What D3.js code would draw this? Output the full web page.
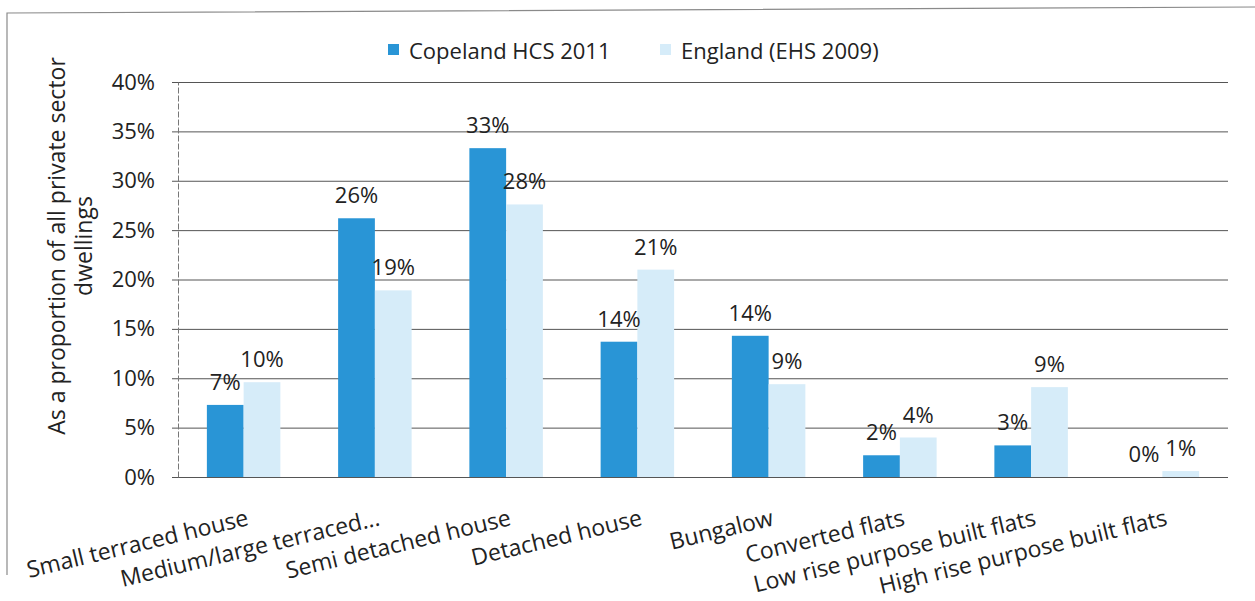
<!DOCTYPE html>
<html>
<head>
<meta charset="utf-8">
<script src="https://cdn.jsdelivr.net/npm/d3@7"></script>
<style>
  html, body { margin: 0; padding: 0; background: #fff; }
  svg text { font-family: "Open Sans", Lato, sans-serif; fill: #222; }
</style>
</head>
<body>
<svg id="chart" width="1255" height="601"></svg>
<script>
// Dwelling types (private sector stock)
const categories = [
  "Small terraced house",
  "Medium/large terraced...",
  "Semi detached house",
  "Detached house",
  "Bungalow",
  "Converted flats",
  "Low rise purpose built flats",
  "High rise purpose built flats"
];
const seriesNames = ["Copeland HCS 2011", "England (EHS 2009)"];
const copeland = [0.073, 0.262, 0.333, 0.137, 0.143, 0.022, 0.032, 0.000];
const england  = [0.096, 0.189, 0.276, 0.210, 0.094, 0.040, 0.091, 0.006];
const yTicks = [0, 0.05, 0.10, 0.15, 0.20, 0.25, 0.30, 0.35, 0.40];
const yTitle = ["As a proportion of all private sector", "dwellings"];

const colors = ["#2995d6", "#d6ecf9"];
const svg = d3.select("#chart");

const plot = { left: 178, right: 1228, top: 82, bottom: 477 };

const x = d3.scaleBand()
  .domain(categories)
  .range([plot.left, plot.right])
  .paddingInner(0.44)
  .paddingOuter(0.22);

const xs = d3.scaleBand()
  .domain(seriesNames)
  .range([0, x.bandwidth()]);

const y = d3.scaleLinear().domain([0, 0.4]).range([plot.bottom, plot.top]);
const pct = d3.format(".0%");

// chart frame (left and top edges)
svg.append("path")
  .attr("d", "M7,575 L7,13 L1255,7")
  .attr("fill", "none")
  .attr("stroke", "#8a8a8a")
  .attr("stroke-width", 1.2);

// horizontal gridlines (extend a little left of the axis as tick marks)
const gy = svg.append("g")
  .attr("transform", `translate(${plot.right},0)`)
  .call(d3.axisLeft(y).tickValues(yTicks).tickSize(plot.right - 172).tickFormat(""));
gy.select(".domain").remove();
gy.selectAll(".tick line").attr("stroke", "#555").attr("stroke-width", 1);

// y axis with percentage labels
const ya = svg.append("g")
  .attr("transform", `translate(${plot.left},0)`)
  .call(d3.axisLeft(y).tickValues(yTicks).tickFormat(pct).tickSize(0).tickPadding(23));
ya.select(".domain").attr("stroke", "#777").attr("stroke-dasharray", "6,2");
ya.selectAll(".tick text")
  .style("font-size", "22px")
  .attr("fill", "#333");

// y axis title
const yt = svg.append("text")
  .attr("transform", "translate(68,246) rotate(-90)")
  .attr("text-anchor", "middle")
  .style("font-size", "23px");
yt.selectAll("tspan").data(yTitle).join("tspan")
  .attr("x", 0)
  .attr("dy", (d, i) => i === 0 ? "-0.15em" : "1.2em")
  .text(d => d);

// bars
const rows = categories.map((c, i) => ({ cat: c, vals: [copeland[i], england[i]] }));
const groups = svg.append("g").selectAll("g").data(rows).join("g")
  .attr("transform", d => `translate(${x(d.cat)},0)`);

groups.selectAll("rect")
  .data(d => d.vals.map((v, k) => ({ v, s: seriesNames[k], k })))
  .join("rect")
  .attr("x", d => xs(d.s))
  .attr("y", d => y(d.v))
  .attr("width", xs.bandwidth())
  .attr("height", d => y(0) - y(d.v))
  .attr("fill", d => colors[d.k]);

// value labels
groups.selectAll("text.val")
  .data(d => d.vals.map((v, k) => ({ v, s: seriesNames[k], k })))
  .join("text")
  .attr("class", "val")
  .attr("x", d => xs(d.s) + xs.bandwidth() / 2)
  .attr("y", d => y(d.v) - 15)
  .attr("text-anchor", "middle")
  .style("font-size", "22px")
  .text(d => pct(d.v));

// category labels
svg.append("g").selectAll("text").data(categories).join("text")
  .attr("transform", d => `translate(${x(d) + x.bandwidth() / 2 + 6},525) rotate(-13.5)`)
  .attr("text-anchor", "end")
  .style("font-size", "23px")
  .text(d => d);

// legend
const legend = svg.append("g").attr("transform", "translate(388,0)");
const legX = [0, 272];
seriesNames.forEach((name, i) => {
  legend.append("rect")
    .attr("x", legX[i]).attr("y", 44)
    .attr("width", 11).attr("height", 11)
    .attr("fill", colors[i]);
  legend.append("text")
    .attr("x", legX[i] + 21).attr("y", 59)
    .style("font-size", "22px")
    .text(name);
});
</script>
</body>
</html>
